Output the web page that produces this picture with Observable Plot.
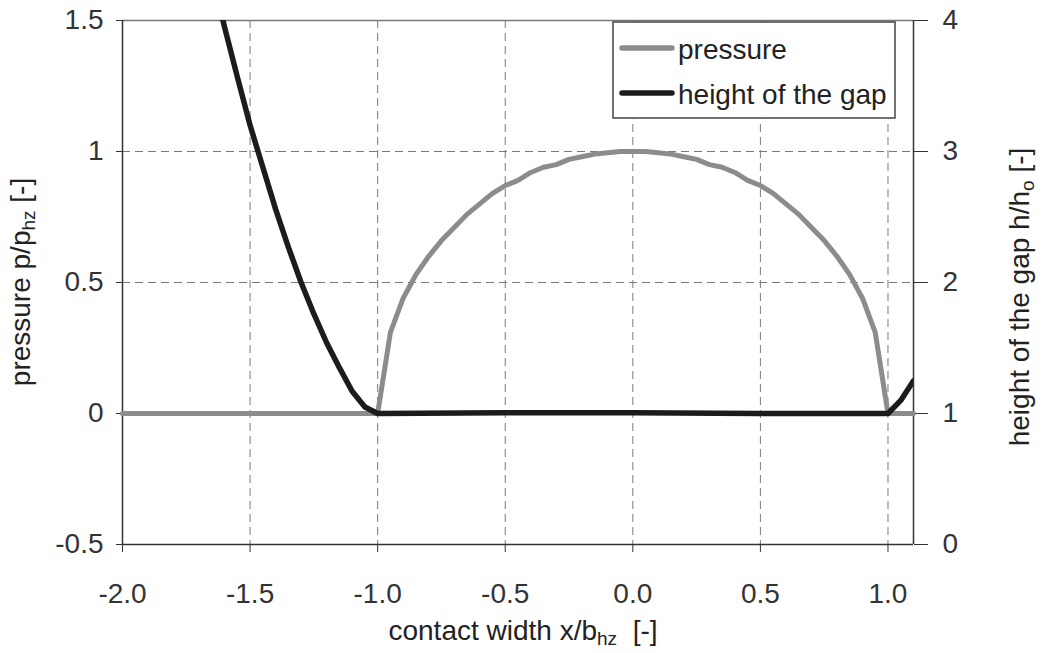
<!DOCTYPE html>
<html><head><meta charset="utf-8">
<script src="https://cdn.jsdelivr.net/npm/d3@7"></script>
<script src="https://cdn.jsdelivr.net/npm/@observablehq/plot@0.6"></script>
<style>
body{margin:0;background:#fff;}
#chart svg{display:block;}
</style></head><body><div id="chart"></div>
<script>
// ---- data ----
const xTicks = [-2.0, -1.5, -1.0, -0.5, 0.0, 0.5, 1.0];
const pTicks = [-0.5, 0, 0.5, 1, 1.5];
const hTicks = [0, 1, 2, 3, 4];
const seriesNames = ["pressure", "height of the gap"];

const pressureX = [-2.0, -1.0, -0.95, -0.9, -0.85, -0.8, -0.75, -0.7, -0.65, -0.6, -0.55, -0.5, -0.45, -0.4, -0.35, -0.3, -0.25, -0.2, -0.15, -0.1, -0.05, 0.0,
  0.05, 0.1, 0.15, 0.2, 0.25, 0.3, 0.35, 0.4, 0.45, 0.5, 0.55, 0.6, 0.65, 0.7, 0.75, 0.8, 0.85, 0.9, 0.95, 1.0, 1.1];
const pressureY = [0, 0, 0.31, 0.44, 0.53, 0.60, 0.66, 0.71, 0.76, 0.80, 0.84, 0.87, 0.89, 0.92, 0.94, 0.95, 0.97, 0.98, 0.99, 0.995, 1.0, 1.0,
  1.0, 0.995, 0.99, 0.98, 0.97, 0.95, 0.94, 0.92, 0.89, 0.87, 0.84, 0.80, 0.76, 0.71, 0.66, 0.60, 0.53, 0.44, 0.31, 0, 0];

const gapX = [-1.65, -1.6, -1.55, -1.5, -1.45, -1.4, -1.35, -1.3, -1.25, -1.2, -1.15, -1.1, -1.05, -1.0, -0.5, 0.0, 0.5, 1.0, 1.05, 1.1];
const gapH = [4.35, 3.95, 3.57, 3.20, 2.88, 2.56, 2.27, 2.00, 1.76, 1.54, 1.35, 1.17, 1.05, 1.0, 1.005, 1.005, 1.0, 1.0, 1.1, 1.25];

// ---- build tables ----
const pressure = pressureX.map((x, i) => ({x, p: pressureY[i]}));
const gap = gapX.map((x, i) => ({x, h: gapH[i]}));
// right axis (h) shares the left scale: h = 1 + 2p
const hToP = h => (h - 1) / 2;

const FONT = "'Liberation Sans', Arial, Helvetica, sans-serif";
const FS = 28;
const SUB = 19;
const gray = "#8c8c8c", dark = "#1c1c1c", axisCol = "#333";

const chart = Plot.plot({
  width: 1045, height: 653,
  marginLeft: 122, marginRight: 132, marginTop: 20, marginBottom: 109,
  style: {fontFamily: FONT, fontSize: FS + "px", color: axisCol, background: "#fff"},
  x: {domain: [-2.0, 1.1]},
  y: {domain: [-0.5, 1.5]},
  marks: [
    Plot.gridX(xTicks.slice(1), {stroke: "#7a7a7a", strokeOpacity: 1, strokeDasharray: "8,5", strokeWidth: 1}),
    Plot.gridY([0, 0.5, 1], {stroke: "#7a7a7a", strokeOpacity: 1, strokeDasharray: "8,5", strokeWidth: 1}),
    Plot.ruleY([1.5], {stroke: "#777", strokeWidth: 1.5}),
    Plot.ruleY([-0.5], {stroke: axisCol, strokeWidth: 1.5}),
    Plot.ruleX([-2.0], {stroke: axisCol, strokeWidth: 1.5}),
    Plot.ruleX([1.1], {stroke: axisCol, strokeWidth: 1.5}),
    Plot.axisX(xTicks, {tickSize: 8, tickPadding: 31, fontSize: FS, tickFormat: d => d.toFixed(1), label: null, stroke: axisCol}),
    Plot.axisY(pTicks, {anchor: "left", tickSize: 6, tickPadding: 13, fontSize: FS, tickFormat: d => String(d), label: null, stroke: axisCol}),
    Plot.axisY(hTicks.map(hToP), {anchor: "right", tickSize: 14, tickPadding: 15, fontSize: FS, tickFormat: d => String(Math.round(d * 2 + 1)), label: null, stroke: axisCol}),
    Plot.line(pressure, {x: "x", y: "p", stroke: gray, strokeWidth: 5, strokeLinejoin: "round"}),
    Plot.line(gap, {x: "x", y: d => hToP(d.h), stroke: dark, strokeWidth: 5.5, strokeLinejoin: "round", clip: true})
  ]
});

document.getElementById("chart").appendChild(chart);
const svg = d3.select(chart);

// ---- axis titles with subscripts ----
function title(g, main, sub, tail) {
  const t = g.append("text").attr("font-family", FONT).attr("font-size", FS).attr("fill", "#222").attr("text-anchor", "middle");
  t.append("tspan").text(main);
  t.append("tspan").attr("font-size", SUB).attr("dy", 5).text(sub);
  t.append("tspan").attr("dy", -5).text(tail);
  return t;
}
title(svg.append("g").attr("transform", "translate(523,640)"), "contact width x/b", "hz", "\u00a0 [-]");
title(svg.append("g").attr("transform", "translate(30,282) rotate(-90)"), "pressure p/p", "hz", " [-]");
title(svg.append("g").attr("transform", "translate(1029,297) rotate(-90)"), "height of the gap h/h", "o", " [-]");

// ---- legend ----
const lg = svg.append("g");
lg.append("rect").attr("x", 613).attr("y", 22).attr("width", 282).attr("height", 96)
  .attr("fill", "#fff").attr("stroke", "#444").attr("stroke-width", 1.5);
const legendColors = [gray, dark];
seriesNames.forEach((name, i) => {
  const yy = 48 + i * 45;
  lg.append("line").attr("x1", 622).attr("x2", 672).attr("y1", yy).attr("y2", yy)
    .attr("stroke", legendColors[i]).attr("stroke-width", 5.5).attr("stroke-linecap", "round");
  lg.append("text").attr("x", 678).attr("y", yy + 11).attr("font-family", FONT).attr("font-size", FS)
    .attr("text-anchor", "start").attr("fill", "#222").text(name);
});
</script>
</body></html>
